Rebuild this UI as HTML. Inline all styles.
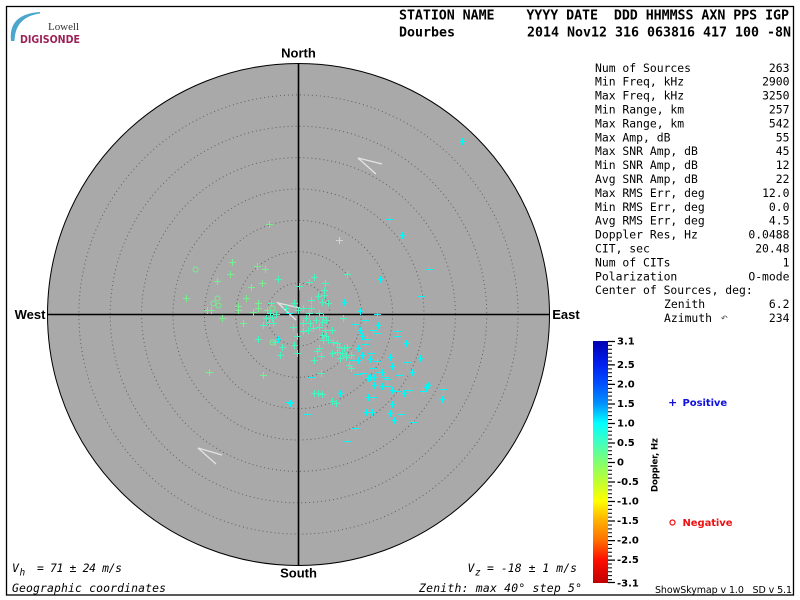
<!DOCTYPE html>
<html><head><meta charset="utf-8"><style>
html,body{margin:0;padding:0;background:#fff;}
svg{display:block;}
.mono{font-family:"DejaVu Sans Mono","Liberation Mono",monospace;}
.sans{font-family:"DejaVu Sans","Liberation Sans",sans-serif;}
</style></head><body>
<svg width="800" height="600" viewBox="0 0 800 600" xmlns="http://www.w3.org/2000/svg">
<defs>
<g id="p"><rect x="-3" y="0" width="7" height="1"/><rect x="0" y="-3" width="1" height="7"/></g>
<linearGradient id="cb" x1="0" y1="0" x2="0" y2="1">
<stop offset="0" stop-color="#0000b0"/>
<stop offset="0.097" stop-color="#0020f0"/>
<stop offset="0.177" stop-color="#0050ff"/>
<stop offset="0.258" stop-color="#0090ff"/>
<stop offset="0.339" stop-color="#00ffff"/>
<stop offset="0.419" stop-color="#40ffc0"/>
<stop offset="0.5" stop-color="#80ff70"/>
<stop offset="0.581" stop-color="#c0ff30"/>
<stop offset="0.661" stop-color="#ffff00"/>
<stop offset="0.742" stop-color="#ffb000"/>
<stop offset="0.823" stop-color="#ff7000"/>
<stop offset="0.903" stop-color="#ff1000"/>
<stop offset="1" stop-color="#c00000"/>
</linearGradient>
</defs>
<rect x="6.5" y="6.5" width="787" height="588.5" fill="#fff" stroke="#000" stroke-width="1.3"/>

<!-- logo -->
<path d="M11 41 Q8 14 40 12 L40 13.5 Q15 17 14.5 41 Z" fill="#4aa6cc"/>
<text x="48" y="30" font-family="Liberation Serif,serif" font-size="11" fill="#333" textLength="31">Lowell</text>
<text x="20" y="43" class="sans" font-size="10.5" font-weight="bold" fill="#9b2257" textLength="60" lengthAdjust="spacingAndGlyphs">DIGISONDE</text>

<!-- header -->
<text x="399" y="19.5" class="mono" font-size="13.3" font-weight="bold" style="white-space:pre" textLength="390">STATION NAME    YYYY DATE  DDD HHMMSS AXN PPS IGP</text>
<text x="399" y="36.5" class="mono" font-size="13.3" font-weight="bold" style="white-space:pre" textLength="392">Dourbes         2014 Nov12 316 063816 417 100 -8N</text>

<!-- sky map -->
<circle cx="298.5" cy="314.5" r="251" fill="#a9a9a9" stroke="#000" stroke-width="1"/>
<g fill="none" stroke="#606060" stroke-width="1" stroke-dasharray="1 3">
<circle cx="298.5" cy="314.5" r="31.4"/>
<circle cx="298.5" cy="314.5" r="62.8"/>
<circle cx="298.5" cy="314.5" r="94.1"/>
<circle cx="298.5" cy="314.5" r="125.5"/>
<circle cx="298.5" cy="314.5" r="156.9"/>
<circle cx="298.5" cy="314.5" r="188.3"/>
<circle cx="298.5" cy="314.5" r="219.6"/>
</g>
<path d="M298.5 63.5V565.5M47.5 314.5H549.5" stroke="#000" stroke-width="1.6"/>

<!-- arrows -->
<g fill="none" stroke="#e2e2e2" stroke-width="1.4">
<path d="M382 164L358 158L376 174"/>
<path d="M222 455L198 448L216 464"/>
<path d="M300 308L278 303L296 320"/>
</g>

<!-- green points -->
<g fill="#74f08e">
<use href="#p" x="269" y="224"/><use href="#p" x="232" y="262"/><use href="#p" x="257" y="266"/>
<use href="#p" x="265" y="269"/><use href="#p" x="230" y="274"/><use href="#p" x="217" y="281"/>
<use href="#p" x="262" y="283"/><use href="#p" x="251" y="287"/><use href="#p" x="186" y="298"/>
<use href="#p" x="246" y="298"/><use href="#p" x="238" y="306"/><use href="#p" x="258" y="303"/>
<use href="#p" x="207" y="310"/><use href="#p" x="211" y="310"/><use href="#p" x="238" y="310"/>
<use href="#p" x="253" y="312"/><use href="#p" x="258" y="308"/><use href="#p" x="267" y="310"/>
<use href="#p" x="222" y="318"/><use href="#p" x="243" y="323"/><use href="#p" x="209" y="372"/>
<use href="#p" x="263" y="375"/>
</g>
<g stroke="#74f08e" fill="none" stroke-width="1">
<circle cx="195.5" cy="269.5" r="2.5"/><circle cx="217.5" cy="298.5" r="2.5"/>
<circle cx="213.5" cy="303.5" r="2.5"/><circle cx="218.5" cy="305.5" r="2.5"/>
<circle cx="272.5" cy="308.5" r="2.5"/><circle cx="272.5" cy="342.5" r="2.5"/>
</g>

<!-- light points -->
<g fill="#d4d4d4"><use href="#p" x="339" y="240"/></g>

<!-- aqua points -->
<g fill="#40f8c0">
<use href="#p" x="278" y="279"/><use href="#p" x="271" y="303"/><use href="#p" x="270" y="313"/>
<use href="#p" x="276" y="314"/><use href="#p" x="286" y="308"/><use href="#p" x="266" y="318"/>
<use href="#p" x="272" y="318"/><use href="#p" x="263" y="325"/><use href="#p" x="269" y="323"/>
<use href="#p" x="273" y="323"/><use href="#p" x="258" y="339"/><use href="#p" x="275" y="342"/>
<use href="#p" x="282" y="347"/><use href="#p" x="280" y="355"/>
<use href="#p" x="347" y="274"/><use href="#p" x="314" y="277"/><use href="#p" x="309" y="282"/>
<use href="#p" x="325" y="283"/><use href="#p" x="299" y="286"/><use href="#p" x="324" y="290"/>
<use href="#p" x="318" y="296"/><use href="#p" x="324" y="295"/><use href="#p" x="311" y="300"/>
<use href="#p" x="322" y="302"/><use href="#p" x="328" y="303"/><use href="#p" x="294" y="303"/>
<use href="#p" x="303" y="308"/><use href="#p" x="311" y="308"/><use href="#p" x="319" y="313"/>
<use href="#p" x="309" y="313"/><use href="#p" x="323" y="317"/><use href="#p" x="306" y="318"/>
<use href="#p" x="316" y="320"/><use href="#p" x="303" y="323"/><use href="#p" x="310" y="323"/>
<use href="#p" x="322" y="322"/><use href="#p" x="326" y="320"/><use href="#p" x="293" y="327"/>
<use href="#p" x="303" y="331"/><use href="#p" x="308" y="330"/><use href="#p" x="313" y="328"/>
<use href="#p" x="319" y="327"/><use href="#p" x="325" y="330"/><use href="#p" x="332" y="330"/>
<use href="#p" x="322" y="335"/><use href="#p" x="326" y="336"/><use href="#p" x="323" y="340"/>
<use href="#p" x="328" y="340"/><use href="#p" x="333" y="342"/><use href="#p" x="294" y="345"/>
<use href="#p" x="319" y="348"/><use href="#p" x="317" y="351"/><use href="#p" x="332" y="353"/>
<use href="#p" x="321" y="356"/><use href="#p" x="297" y="353"/><use href="#p" x="314" y="360"/>
<use href="#p" x="321" y="373"/><use href="#p" x="314" y="393"/><use href="#p" x="318" y="393"/>
<use href="#p" x="322" y="394"/><use href="#p" x="332" y="401"/><use href="#p" x="336" y="403"/>
<use href="#p" x="298" y="310"/><use href="#p" x="297" y="336"/>
<use href="#p" x="343" y="318"/><use href="#p" x="337" y="343"/><use href="#p" x="339" y="347"/>
<use href="#p" x="344" y="348"/><use href="#p" x="347" y="347"/><use href="#p" x="337" y="352"/>
<use href="#p" x="342" y="353"/><use href="#p" x="346" y="355"/><use href="#p" x="351" y="355"/>
<use href="#p" x="340" y="358"/><use href="#p" x="346" y="357"/><use href="#p" x="349" y="365"/>
<use href="#p" x="351" y="368"/>
</g>

<!-- cyan points -->
<g fill="#00fafa">
<use href="#p" x="289" y="313"/><use href="#p" x="278" y="339"/><use href="#p" x="311" y="377"/>
<use href="#p" x="290" y="403"/><use href="#p" x="289" y="402"/>
<use href="#p" x="429" y="269"/><use href="#p" x="380" y="279"/><use href="#p" x="421" y="296"/>
<use href="#p" x="344" y="302"/><use href="#p" x="360" y="311"/><use href="#p" x="377" y="314"/>
<use href="#p" x="355" y="324"/><use href="#p" x="365" y="320"/><use href="#p" x="360" y="330"/>
<use href="#p" x="373" y="330"/><use href="#p" x="378" y="325"/><use href="#p" x="397" y="331"/>
<use href="#p" x="362" y="336"/><use href="#p" x="367" y="339"/><use href="#p" x="377" y="333"/>
<use href="#p" x="397" y="336"/><use href="#p" x="365" y="344"/><use href="#p" x="406" y="343"/>
<use href="#p" x="358" y="348"/><use href="#p" x="371" y="353"/><use href="#p" x="362" y="355"/>
<use href="#p" x="390" y="357"/><use href="#p" x="420" y="358"/><use href="#p" x="407" y="362"/>
<use href="#p" x="353" y="360"/><use href="#p" x="358" y="360"/><use href="#p" x="370" y="359"/>
<use href="#p" x="377" y="361"/><use href="#p" x="392" y="366"/><use href="#p" x="373" y="368"/>
<use href="#p" x="379" y="372"/><use href="#p" x="382" y="372"/><use href="#p" x="363" y="373"/>
<use href="#p" x="357" y="374"/><use href="#p" x="412" y="372"/><use href="#p" x="399" y="375"/>
<use href="#p" x="370" y="377"/><use href="#p" x="374" y="377"/><use href="#p" x="385" y="377"/>
<use href="#p" x="387" y="379"/><use href="#p" x="368" y="378"/><use href="#p" x="374" y="385"/>
<use href="#p" x="382" y="386"/><use href="#p" x="387" y="386"/><use href="#p" x="392" y="390"/>
<use href="#p" x="397" y="391"/><use href="#p" x="404" y="393"/><use href="#p" x="409" y="390"/>
<use href="#p" x="423" y="391"/><use href="#p" x="426" y="387"/><use href="#p" x="428" y="385"/>
<use href="#p" x="443" y="389"/><use href="#p" x="442" y="399"/><use href="#p" x="340" y="393"/>
<use href="#p" x="368" y="397"/><use href="#p" x="373" y="397"/><use href="#p" x="392" y="404"/>
<use href="#p" x="307" y="414"/><use href="#p" x="366" y="412"/><use href="#p" x="372" y="412"/>
<use href="#p" x="390" y="413"/><use href="#p" x="401" y="414"/><use href="#p" x="394" y="420"/>
<use href="#p" x="413" y="422"/><use href="#p" x="355" y="428"/><use href="#p" x="347" y="441"/>
<use href="#p" x="462" y="141"/><use href="#p" x="389" y="219"/><use href="#p" x="402" y="235"/>
</g>

<!-- compass labels -->
<g font-family="Liberation Sans,Arial,sans-serif" font-weight="bold" font-size="13" fill="#000">
<text x="298.5" y="57.3" text-anchor="middle">North</text>
<text x="298.5" y="577.3" text-anchor="middle">South</text>
<text x="30" y="319" text-anchor="middle">West</text>
<text x="566" y="319" text-anchor="middle">East</text>
</g>

<!-- stats -->
<g class="mono" font-size="11.4" fill="#000" style="white-space:pre">
<text x="595" y="71.8">Num of Sources</text><text x="789.5" y="71.8" text-anchor="end">263</text>
<text x="595" y="85.7">Min Freq, kHz</text><text x="789.5" y="85.7" text-anchor="end">2900</text>
<text x="595" y="99.6">Max Freq, kHz</text><text x="789.5" y="99.6" text-anchor="end">3250</text>
<text x="595" y="113.5">Min Range, km</text><text x="789.5" y="113.5" text-anchor="end">257</text>
<text x="595" y="127.4">Max Range, km</text><text x="789.5" y="127.4" text-anchor="end">542</text>
<text x="595" y="141.3">Max Amp, dB</text><text x="789.5" y="141.3" text-anchor="end">55</text>
<text x="595" y="155.2">Max SNR Amp, dB</text><text x="789.5" y="155.2" text-anchor="end">45</text>
<text x="595" y="169.1">Min SNR Amp, dB</text><text x="789.5" y="169.1" text-anchor="end">12</text>
<text x="595" y="183.0">Avg SNR Amp, dB</text><text x="789.5" y="183.0" text-anchor="end">22</text>
<text x="595" y="196.9">Max RMS Err, deg</text><text x="789.5" y="196.9" text-anchor="end">12.0</text>
<text x="595" y="210.8">Min RMS Err, deg</text><text x="789.5" y="210.8" text-anchor="end">0.0</text>
<text x="595" y="224.7">Avg RMS Err, deg</text><text x="789.5" y="224.7" text-anchor="end">4.5</text>
<text x="595" y="238.6">Doppler Res, Hz</text><text x="789.5" y="238.6" text-anchor="end">0.0488</text>
<text x="595" y="252.5">CIT, sec</text><text x="789.5" y="252.5" text-anchor="end">20.48</text>
<text x="595" y="266.4">Num of CITs</text><text x="789.5" y="266.4" text-anchor="end">1</text>
<text x="595" y="280.3">Polarization</text><text x="789.5" y="280.3" text-anchor="end">O-mode</text>
<text x="595" y="294.2">Center of Sources, deg:</text>
<text x="664" y="308.1">Zenith</text><text x="789.5" y="308.1" text-anchor="end">6.2</text>
<text x="664" y="322.0">Azimuth</text><text x="789.5" y="322.0" text-anchor="end">234</text>
</g>
<text x="721" y="321" font-family="DejaVu Sans,sans-serif" font-size="8" fill="#444">↶</text>

<!-- color bar -->
<rect x="593" y="341" width="15" height="242" fill="url(#cb)"/>
<path d="M608 341.5h4m-4 3.903h4m-4 3.903h4m-4 3.903h4m-4 3.903h4m-4 3.903h4m-4 3.903h4m-4 3.903h4m-4 3.903h4m-4 3.903h4m-4 3.903h4m-4 3.903h4m-4 3.903h4m-4 3.903h4m-4 3.903h4m-4 3.903h4m-4 3.903h4m-4 3.903h4m-4 3.903h4m-4 3.903h4m-4 3.903h4m-4 3.903h4m-4 3.903h4m-4 3.903h4m-4 3.903h4m-4 3.903h4m-4 3.903h4m-4 3.903h4m-4 3.903h4m-4 3.903h4m-4 3.903h4m-4 3.903h4m-4 3.903h4m-4 3.903h4m-4 3.903h4m-4 3.903h4m-4 3.903h4m-4 3.903h4m-4 3.903h4m-4 3.903h4m-4 3.903h4m-4 3.903h4m-4 3.903h4m-4 3.903h4m-4 3.903h4m-4 3.903h4m-4 3.903h4m-4 3.903h4m-4 3.903h4m-4 3.903h4m-4 3.903h4m-4 3.903h4m-4 3.903h4m-4 3.903h4m-4 3.903h4m-4 3.903h4m-4 3.903h4m-4 3.903h4m-4 3.903h4m-4 3.903h4m-4 3.903h4m-4 3.903h4" stroke="#000" stroke-width="1" fill="none"/>
<path d="M608 341.5h7M608 364.9h7M608 384.4h7M608 404h7M608 423.5h7M608 443h7M608 462.5h7M608 482h7M608 501.5h7M608 521h7M608 540.6h7M608 560.1h7M608 582.5h7" stroke="#000" stroke-width="1.2"/>
<g class="sans" font-size="10" font-weight="bold" fill="#000">
<text x="617" y="344.6">3.1</text>
<text x="617" y="368">2.5</text>
<text x="617" y="387.5">2.0</text>
<text x="617" y="407.1">1.5</text>
<text x="617" y="426.6">1.0</text>
<text x="617" y="446.1">0.5</text>
<text x="617" y="465.6">0</text>
<text x="617" y="485.1">-0.5</text>
<text x="617" y="504.6">-1.0</text>
<text x="617" y="524.1">-1.5</text>
<text x="617" y="543.7">-2.0</text>
<text x="617" y="563.2">-2.5</text>
<text x="617" y="586.6">-3.1</text>
</g>
<text transform="translate(657.5,465) rotate(-90)" text-anchor="middle" class="sans" font-size="8.5" font-weight="bold" fill="#000" textLength="54">Doppler, Hz</text>

<!-- legend -->
<text x="668" y="406" class="sans" font-size="11" font-weight="bold" fill="#1010e0">+</text>
<text x="682.5" y="406" class="sans" font-size="10" font-weight="bold" fill="#1010e0" textLength="44.7">Positive</text>
<circle cx="672.5" cy="522.5" r="2.5" fill="none" stroke="#ee1111" stroke-width="1.2"/>
<text x="682.5" y="526" class="sans" font-size="10" font-weight="bold" fill="#ee1111" textLength="50">Negative</text>

<!-- bottom texts -->
<g class="mono" font-size="11.4" font-style="italic" fill="#000" style="white-space:pre">
<text x="12" y="572">V</text>
<text x="19.5" y="575.5" font-size="9.5">h</text>
<text x="37" y="572" textLength="85">= 71 ± 24 m/s</text>
<text x="12" y="592" textLength="154">Geographic coordinates</text>
<text x="467.5" y="572">V</text>
<text x="475" y="575.5" font-size="9.5">z</text>
<text x="487" y="572" textLength="90">= -18 ± 1 m/s</text>
<text x="419" y="592" textLength="163">Zenith: max 40°  step 5°</text>
</g>
<text x="655" y="593" class="sans" font-size="9.5" fill="#000" style="white-space:pre" textLength="137">ShowSkymap v 1.0   SD v 5.1</text>
</svg>
</body></html>
